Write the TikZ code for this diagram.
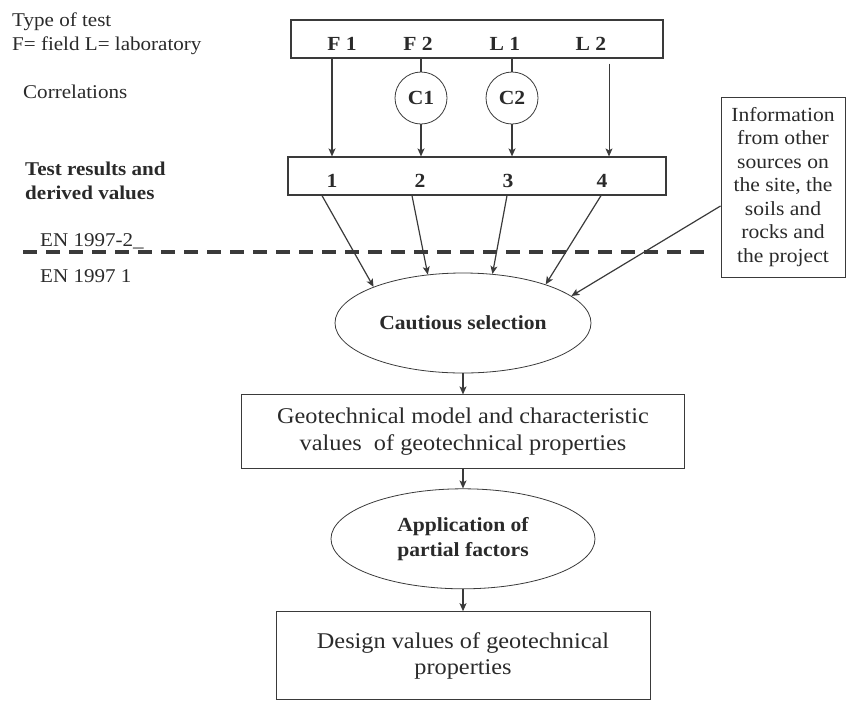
\documentclass[tikz,border=0pt]{standalone}
\usepackage{fontspec}
\setmainfont{Liberation Serif}[FakeStretch=1.08]
\usepackage{xcolor}
\usepackage{tikz}
\usetikzlibrary{arrows.meta}
\usetikzlibrary{positioning}
\usetikzlibrary{shapes}
\definecolor{inkgray}{HTML}{3A3A3A}
\definecolor{textgray}{HTML}{2A2A2A}

\begin{document}
\begin{tikzpicture}[
    x=1pt, y=-1pt,
    every node/.style={
    align=center,
    inner sep=0pt,
    text=textgray},
    box/.style={draw=inkgray, line width=1.2pt, rectangle},
    oval/.style={draw=inkgray, line width=0.8pt, ellipse,
        font=\bfseries\fontsize{20}{25}\selectfont},
    corr/.style={draw=inkgray, line width=0.8pt, circle,
        minimum size=52pt, font=\bfseries\fontsize{20}{24}\selectfont},
    tag/.style={anchor=base, font=\bfseries\fontsize{20}{24}\selectfont},
    side/.style={anchor=base west, font=\fontsize{19.5}{24}\selectfont},
    link/.style={draw=inkgray, line width=1.2pt},
    cut/.style={draw=inkgray, line width=3.5pt, dash pattern=on 14pt off 9pt},
    >={Stealth[length=8pt, width=7pt, inset=2pt]}]
    \useasboundingbox (0,0) rectangle (846,724);
    % tests and their values
    \node[box, minimum width=372pt, minimum height=38pt] (tests) at (477,39) {};
    \node[tag] (f1) at (342,50) {F 1};
    \node[tag] (f2) at (418,50) {F 2};
    \node[tag] (l1) at (505,50) {L 1};
    \node[tag] (l2) at (591,50) {L 2};
    \node[corr] (c1) at (421,98) {C1};
    \node[corr] (c2) at (512,98) {C2};
    \node[box, minimum width=378pt, minimum height=38pt] (res) at (477,176) {};
    \node[tag] (r1) at (332,187) {1};
    \node[tag] (r2) at (420,187) {2};
    \node[tag] (r3) at (508,187) {3};
    \node[tag] (r4) at (602,187) {4};
    % captions on the left
    \node[side] (kind) at (12,26) {Type of test};
    \node[side] (kinds) at (12,50) {F= field L= laboratory};
    \node[side] (corrl) at (23,98) {Correlations};
    \node[side, font=\bfseries\fontsize{19.5}{24}\selectfont] (resl) at (25,175) {Test results and};
    \node[side, font=\bfseries\fontsize{19.5}{24}\selectfont] (resm) at (25,199) {derived values};
    \node[side] (en2) at (40,246) {EN 1997-2\_};
    \node[side] (en1) at (40,282) {EN 1997 1};
    \node[box, line width=1pt, minimum width=124pt, minimum height=180pt,
        font=\fontsize{20}{23.5}\selectfont] (info) at (783,187)
        {Information\\from other\\sources on\\the site, the\\soils and\\rocks and\\the project};
    % selection chain
    \node[oval, minimum width=256pt, minimum height=100pt] (sel) at (463,323) {Cautious selection};
    \node[box, line width=1pt, minimum width=443pt, minimum height=74pt,
        font=\fontsize{22.5}{27}\selectfont, below=21pt of sel] (model)
        {Geotechnical model and characteristic\\values \ of geotechnical properties};
    \node[oval, minimum width=264pt, minimum height=100pt, below=19pt of model] (app)
        {Application of\\partial factors};
    \node[box, line width=1pt, minimum width=374pt, minimum height=88pt,
        font=\fontsize{22.5}{26}\selectfont, below=22pt of app] (design)
        {Design values of geotechnical\\properties};
    \coordinate (cutw) at (23,252);
    \coordinate (cute) at (708,252);
    \draw[cut] (cutw) -- (cute);
    \draw[link, ->] (r1 |- tests.south) -- (r1 |- res.north);
    \draw[link] (c1 |- tests.south) -- (c1.north);
    \draw[link, ->] (c1.south) -- (c1 |- res.north);
    \draw[link] (c2 |- tests.south) -- (c2.north);
    \draw[link, ->] (c2.south) -- (c2 |- res.north);
    \draw[link, line width=0.8pt, ->] ([xshift=18pt, yshift=-5pt]l2 |- tests.south) -- ([xshift=18pt]l2 |- res.north);
    \draw[link, ->] ([xshift=-10pt]r1 |- res.south) -- (sel.158);
    \draw[link, ->] ([xshift=-8pt]r2 |- res.south) -- (sel.126);
    \draw[link, ->] ([xshift=-1pt]r3 |- res.south) -- (sel.59);
    \draw[link, ->] ([xshift=-1pt]r4 |- res.south) -- (sel.25);
    \draw[link, ->] ([yshift=-19pt]info.west) -- (sel.14);
    \draw[link, ->] (sel.south) -- (sel.south |- model.north);
    \draw[link, ->] (model.south) -- (app.north);
    \draw[link, ->] (app.south) -- (design.north);
\end{tikzpicture}
\end{document}
